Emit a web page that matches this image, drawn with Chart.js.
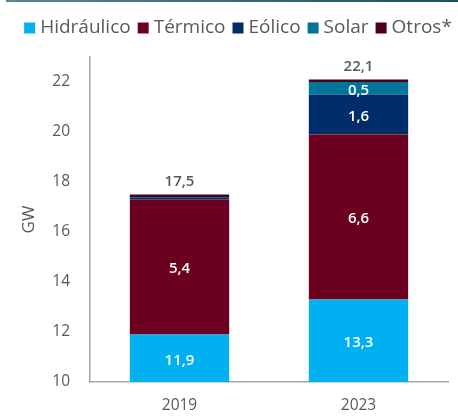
<!DOCTYPE html>
<html>
<head>
<meta charset="utf-8">
<script src="https://cdn.jsdelivr.net/npm/chart.js@4"></script>
<style>
  html, body { margin: 0; padding: 0; background: #fff; }
  #wrap { position: relative; width: 458px; height: 419px; }
  #rule { position: absolute; left: 6px; top: 0; width: 452px; height: 2px;
          background: linear-gradient(to right, #5b8696, #1f4d5e); }
  canvas { position: absolute; left: 0; top: 0; }
</style>
</head>
<body>
<div id="wrap">
  <canvas id="c" width="458" height="419"></canvas>
  <div id="rule"></div>
</div>
<script>
// Installed capacity by source, GW
const years = ['2019', '2023'];
const hidraulico = [11.9, 13.3];
const termico = [5.4, 6.6];
const eolico = [0.06, 1.6];
const solar = [0.04, 0.5];
const otros = [0.1, 0.1];
const totals = [17.5, 22.1];
const yTicks = [10, 12, 14, 16, 18, 20, 22];

const seriesNames = ['Hidráulico', 'Térmico', 'Eólico', 'Solar', 'Otros*'];
const seriesColors = ['#00b0f0', '#6b0020', '#002d6a', '#00759b', '#4a0018'];
const seriesValues = [hidraulico, termico, eolico, solar, otros];

const FONT = "'Open Sans', 'Noto Sans', sans-serif";
const GREY = '#595959';
const fmt = v => v.toFixed(1).replace('.', ',');

// Writes segment values inside the bars and the totals on top
const valueLabels = {
  id: 'valueLabels',
  afterDatasetsDraw(chart) {
    const ctx = chart.ctx;
    const area = chart.chartArea;
    ctx.save();
    ctx.textAlign = 'center';
    ctx.textBaseline = 'middle';
    ctx.font = `600 15px ${FONT}`;
    ctx.fillStyle = '#ffffff';
    chart.data.datasets.forEach((ds, di) => {
      if (di === 4) return;
      const meta = chart.getDatasetMeta(di);
      meta.data.forEach((bar, i) => {
        const v = ds.data[i];
        if (v < 0.5) return;
        const top = Math.max(bar.y, area.top);
        const bottom = Math.min(bar.base, area.bottom);
        ctx.fillText(fmt(v), bar.x, (top + bottom) / 2 + 2);
      });
    });
    const last = chart.getDatasetMeta(chart.data.datasets.length - 1);
    ctx.fillStyle = GREY;
    ctx.textBaseline = 'bottom';
    last.data.forEach((bar, i) => {
      ctx.fillText(fmt(totals[i]), bar.x, bar.y - 5);
    });
    ctx.restore();
  }
};

// Single-row legend with tight spacing between swatch and text
const compactLegend = {
  id: 'compactLegend',
  afterDraw(chart) {
    const ctx = chart.ctx;
    const box = 11, gapText = 5, gapItem = 7, midY = 28;
    ctx.save();
    ctx.font = `19px ${FONT}`;
    ctx.textBaseline = 'middle';
    ctx.textAlign = 'left';
    const items = chart.data.datasets.map(ds => ({
      text: ds.label, color: ds.backgroundColor, w: ctx.measureText(ds.label).width
    }));
    const total = items.reduce((s, it) => s + box + gapText + it.w, 0) + gapItem * (items.length - 1);
    let x = 238 - total / 2;
    items.forEach(it => {
      ctx.fillStyle = it.color;
      ctx.fillRect(x, midY - box / 2, box, box);
      x += box + gapText;
      ctx.fillStyle = GREY;
      ctx.fillText(it.text, x, midY);
      x += it.w + gapItem;
    });
    ctx.restore();
  }
};

new Chart(document.getElementById('c'), {
  type: 'bar',
  data: {
    labels: years,
    datasets: seriesNames.map((name, k) => ({
      label: name,
      data: seriesValues[k],
      backgroundColor: seriesColors[k],
      borderWidth: 0,
      barPercentage: 0.555,
      categoryPercentage: 1
    }))
  },
  options: {
    responsive: false,
    animation: false,
    layout: { padding: { left: 0, right: 10, top: 57, bottom: 0 } },
    plugins: {
      legend: { display: false },
      tooltip: { enabled: false }
    },
    scales: {
      x: {
        stacked: true,
        grid: { display: false, drawTicks: false },
        border: { display: true, color: '#a6a6a6', width: 1.5 },
        ticks: { color: GREY, padding: 14, font: { family: FONT, size: 15.5 } },
        afterFit: s => { s.height = 37; }
      },
      y: {
        stacked: true,
        min: 10,
        max: 23,
        grid: { display: false, drawTicks: false },
        border: { display: true, color: '#a6a6a6', width: 1.5 },
        ticks: { color: GREY, padding: 20, font: { family: FONT, size: 15.5 } },
        afterBuildTicks: s => { s.ticks = yTicks.map(v => ({ value: v })); },
        title: { display: true, text: 'GW', color: GREY, font: { family: FONT, size: 17 }, padding: { top: 19, bottom: 0 } },
        afterFit: s => { s.width = 90; }
      }
    }
  },
  plugins: [valueLabels, compactLegend]
});
</script>
</body>
</html>
